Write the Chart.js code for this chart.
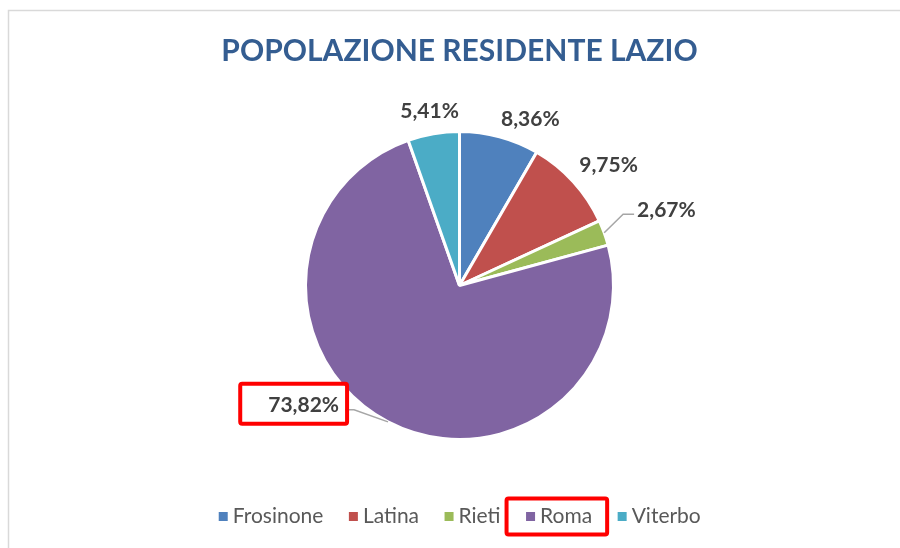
<!DOCTYPE html>
<html>
<head>
<meta charset="utf-8">
<script src="https://cdn.jsdelivr.net/npm/chart.js@4/dist/chart.umd.min.js"></script>
<style>
    html, body { margin: 0; padding: 0; background: #fff; }
    #wrap { width: 900px; height: 548px; }
</style>
</head>
<body>
<div id="wrap"><canvas id="popChart" width="900" height="548"></canvas></div>
<script>
// Data
const provinces = ['Frosinone', 'Latina', 'Rieti', 'Roma', 'Viterbo'];
const shares = [8.36, 9.75, 2.67, 73.82, 5.41];
const sliceColors = ['#4F81BD', '#C0504D', '#9BBB59', '#8064A2', '#4BACC6'];
const highlighted = 'Roma';

// where Excel put each label (relative to the pie radius)
const labelLayout = [
    { dist: 1.174, turn: 8 },
    { dist: 1.245, turn: 3.4 },
    { dist: 1.43, turn: 0, leader: true },
    { dist: 1.278, turn: 24.7, leader: true },
    { dist: 1.149, turn: 0 }
];

function formatPct(v) {
    return v.toFixed(2).replace('.', ',') + '%';
}

const frame = {
    id: 'frame',
    beforeDraw(chart) {
        const ctx = chart.ctx;
        ctx.save();
        ctx.fillStyle = '#fff';
        ctx.fillRect(0, 0, chart.width, chart.height);
        ctx.strokeStyle = '#d9d9d9';
        ctx.lineWidth = 1.5;
        ctx.beginPath();
        ctx.moveTo(8.5, chart.height);
        ctx.lineTo(8.5, 10.5);
        ctx.lineTo(chart.width, 10.5);
        ctx.stroke();
        ctx.restore();
    }
};

const pieLabels = {
    id: 'pieLabels',
    afterDatasetsDraw(chart) {
        const ctx = chart.ctx;
        const meta = chart.getDatasetMeta(0);
        const hiIdx = provinces.indexOf(highlighted);
        ctx.save();
        ctx.font = 'bold 21px Lato';
        ctx.textBaseline = 'middle';
        meta.data.forEach((arc, i) => {
            const p = arc.getProps(['x', 'y', 'startAngle', 'endAngle', 'outerRadius'], true);
            const lay = labelLayout[i];
            const mid = (p.startAngle + p.endAngle) / 2;
            const a = mid + lay.turn * Math.PI / 180;
            const tx = p.x + Math.cos(a) * p.outerRadius * lay.dist;
            const ty = p.y + Math.sin(a) * p.outerRadius * lay.dist;
            const text = formatPct(shares[i]);
            const w = ctx.measureText(text).width;
            const left = tx - w / 2, right = tx + w / 2;

            if (lay.leader) {
                const sx = p.x + Math.cos(mid) * p.outerRadius;
                const sy = p.y + Math.sin(mid) * p.outerRadius;
                const onRight = tx > p.x;
                const ey = ty + 4;
                const elbowX = onRight ? left - 14 : right + 15;
                const endX = onRight ? left - 3 : right + 6;
                ctx.strokeStyle = '#a6a6a6';
                ctx.lineWidth = 1.5;
                ctx.beginPath();
                ctx.moveTo(sx, sy);
                ctx.lineTo(elbowX, ey);
                ctx.lineTo(endX, ey);
                ctx.stroke();
            }

            ctx.fillStyle = '#404040';
            ctx.textAlign = 'center';
            ctx.fillText(text, tx, ty);

            if (i === hiIdx) {
                ctx.strokeStyle = '#ff0000';
                ctx.lineWidth = 4;
                ctx.beginPath();
                ctx.roundRect(left - 28, ty - 22, (right + 8) - (left - 28), 40, 2);
                ctx.stroke();
            }
        });
        ctx.restore();
    },
    afterDraw(chart) {
        // small legend squares sit closer to the text than Chart.js puts them
        const ctx = chart.ctx;
        const boxes = chart.legend.legendHitBoxes;
        const hiIdx = provinces.indexOf(highlighted);
        ctx.save();
        boxes.forEach((hb, i) => {
            const cy = hb.top + hb.height / 2;
            ctx.fillStyle = sliceColors[i];
            ctx.fillRect(hb.left + 0.5, cy - 4.5, 9, 9);
            if (i === hiIdx) {
                ctx.strokeStyle = '#ff0000';
                ctx.lineWidth = 4;
                ctx.beginPath();
                ctx.roundRect(hb.left - 19, cy - 18, hb.width + 34, 36, 2);
                ctx.stroke();
            }
        });
        ctx.restore();
    }
};

const ctx = document.getElementById('popChart');

new Chart(ctx, {
    type: 'pie',
    data: {
        labels: provinces,
        datasets: [{
            data: shares,
            backgroundColor: sliceColors,
            borderColor: '#ffffff',
            borderWidth: 3,
            radius: 154
        }]
    },
    options: {
        responsive: false,
        animation: false,
        events: [],
        layout: {
            padding: { top: 10, bottom: 11, left: 19, right: 0 }
        },
        plugins: {
            title: {
                display: true,
                text: 'POPOLAZIONE RESIDENTE LAZIO',
                color: '#345d91',
                font: { family: 'Lato', size: 30, weight: 'bold' },
                padding: { top: 23, bottom: 21 }
            },
            legend: {
                position: 'bottom',
                labels: {
                    color: '#595959',
                    font: { family: 'Lato', size: 21 },
                    boxWidth: 4,
                    boxHeight: 9,
                    padding: 25,
                    generateLabels(chart) {
                        const items = Chart.overrides.pie.plugins.legend.labels.generateLabels(chart);
                        return items.map(it => Object.assign(it, {
                            lineWidth: 0,
                            strokeStyle: 'transparent',
                            fillStyle: 'transparent'
                        }));
                    }
                }
            },
            tooltip: { enabled: false }
        }
    },
    plugins: [frame, pieLabels]
});
</script>
</body>
</html>
